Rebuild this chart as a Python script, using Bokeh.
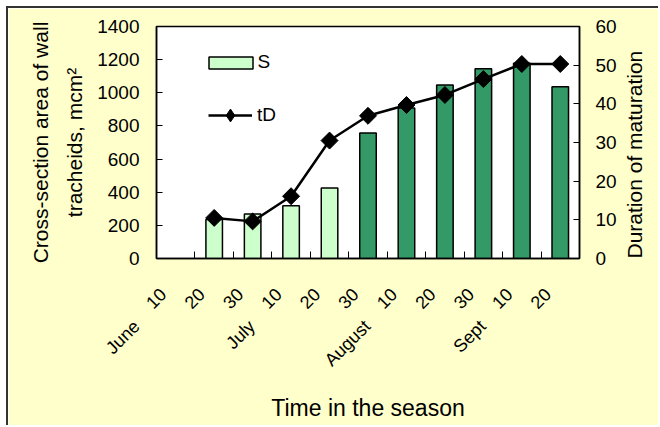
import math
import numpy as np
from bokeh.plotting import figure
from bokeh.models import (Range1d, LinearAxis, FixedTicker, Legend, LegendItem,
                          ColumnDataSource)
from bokeh.embed import file_html
from bokeh.resources import INLINE

# ---- data ----
months = ["June", "July", "August", "Sept"]
month_start = [0, 3, 6, 9]
days = ["10", "20", "30", "10", "20", "30", "10", "20", "30", "10", "20"]
S_values = [np.nan, 235, 268, 318, 425, 758, 908, 1047, 1145, 1178, 1037]
tD_values = [np.nan, 10.5, 9.6, 16.1, 30.5, 36.9, 39.7, 42.3, 46.4, 50.3, 50.3]
S_phase = ["", "early", "early", "early", "early", "late", "late", "late", "late", "late", "late"]
y_ticks = [0, 200, 400, 600, 800, 1000, 1200, 1400]
y2_ticks = [0, 10, 20, 30, 40, 50, 60]

FONT = "Liberation Sans"
phase_color = {"early": "#CCFFCC", "late": "#339966", "": "#FFFFFF"}

W, H = 652, 419
BL, BR, BT, BB = 148, 81, 18, 169

idx = list(range(len(days)))
keep = [i for i in idx if not np.isnan(S_values[i])]
src = ColumnDataSource(dict(
    x=[i for i in keep],
    S=[S_values[i] for i in keep],
    tD=[tD_values[i] for i in keep],
    color=[phase_color[S_phase[i]] for i in keep],
))

n = len(days)
p = figure(width=W, height=H,
           x_range=Range1d(-0.5, n - 0.5), y_range=Range1d(0, 1400),
           x_axis_type=None, y_axis_type=None,
           output_backend="svg", toolbar_location=None,
           min_border_left=BL, min_border_right=BR,
           min_border_top=BT, min_border_bottom=BB,
           background_fill_color="white", border_fill_color="#FFFFCC",
           outline_line_color="black", outline_line_width=1.5)
p.grid.visible = False
p.styles = {"margin-left": "6px", "margin-top": "6px",
            "border-left": "2px solid #333333", "border-top": "2px solid #333333"}

# label positions: day labels sit a little left of the bar centre (rotated text),
# month labels sit at the start of their group and are pushed further down-left
lab_shift = 0.32
p.extra_x_ranges = {"lab": Range1d(-0.5 + lab_shift, n - 0.5 + lab_shift)}
p.extra_y_ranges = {"tD": Range1d(0, 60)}

NBSP = "\u00a0"
day_ticks = [float(i) for i in idx]
month_ticks = [s - 0.19 + lab_shift for s in month_start]
overrides = {t: d for t, d in zip(day_ticks, days)}
overrides.update({t: m + NBSP * 9 for t, m in zip(month_ticks, months)})

xaxis = LinearAxis(x_range_name="lab",
                   ticker=FixedTicker(ticks=day_ticks + month_ticks,
                                      minor_ticks=[i - 0.5 + lab_shift for i in range(n + 1)]),
                   major_label_overrides=overrides,
                   major_label_orientation=math.pi / 4,
                   major_tick_in=0, major_tick_out=0,
                   minor_tick_in=7, minor_tick_out=0,
                   minor_tick_line_color="black", minor_tick_line_width=1,
                   major_label_standoff=33,
                   major_label_text_font=FONT, major_label_text_font_size="18px",
                   major_label_text_color="black",
                   axis_line_color="black", axis_line_width=1.5,
                   axis_label="Time in the season",
                   axis_label_text_font=FONT, axis_label_text_font_size="23px",
                   axis_label_text_font_style="normal", axis_label_text_color="black",
                   axis_label_standoff=15)
p.add_layout(xaxis, "below")

# left axis
yaxis = LinearAxis(ticker=FixedTicker(ticks=y_ticks),
                   major_tick_in=6, major_tick_out=0,
                   minor_tick_line_color=None,
                   major_tick_line_color="black", major_tick_line_width=1,
                   major_label_standoff=17,
                   major_label_text_font=FONT, major_label_text_font_size="19px",
                   major_label_text_color="black",
                   axis_line_color="black", axis_line_width=1.5,
                   axis_label="Cross-section area of wall\ntracheids, mcm\u00b2",
                   axis_label_text_font=FONT, axis_label_text_font_size="21px",
                   axis_label_text_font_style="normal", axis_label_text_color="black",
                   axis_label_text_line_height=1.5,
                   axis_label_standoff=8)
p.add_layout(yaxis, "left")

# right axis
y2axis = LinearAxis(y_range_name="tD", ticker=FixedTicker(ticks=y2_ticks),
                    major_tick_in=6, major_tick_out=0,
                    minor_tick_line_color=None,
                    major_tick_line_color="black", major_tick_line_width=1,
                    major_label_standoff=16,
                    major_label_text_font=FONT, major_label_text_font_size="19px",
                    major_label_text_color="black",
                    axis_line_color="black", axis_line_width=1.5,
                    axis_label="Duration of maturation",
                    axis_label_text_font=FONT, axis_label_text_font_size="21px",
                    axis_label_text_font_style="normal", axis_label_text_color="black",
                    axis_label_standoff=15)
_props = LinearAxis.properties()
if "axis_label_orientation" in _props:
    y2axis.axis_label_orientation = math.pi / 2
if "axis_label_align" in _props:
    try:
        y2axis.axis_label_align = "start"
    except Exception:
        pass
p.add_layout(y2axis, "right")

bars = p.vbar(x="x", top="S", bottom=0, width=0.43, source=src,
              fill_color="color", line_color="black", line_width=1.5)
line = p.line(x="x", y="tD", source=src, y_range_name="tD",
              line_color="black", line_width=2.5)
pts = p.scatter(x="x", y="tD", source=src, y_range_name="tD", marker="square",
                angle=math.pi / 4, size=12, fill_color="black", line_color="black")
# legend symbol for tD (diamond); its single point is empty (NaN) so nothing is plotted
leg_marker = p.scatter(x=[np.nan], y=[np.nan], y_range_name="tD", marker="diamond",
                       fill_color="black", line_color="black")

leg1 = Legend(items=[LegendItem(label="S", renderers=[bars])],
              location=(46.5, 185), glyph_width=55, glyph_height=15,
              label_standoff=0, padding=0, margin=0, spacing=0,
              border_line_color=None, background_fill_alpha=0,
              label_text_font=FONT, label_text_font_size="19px", label_text_color="black")
leg2 = Legend(items=[LegendItem(label="tD", renderers=[line, leg_marker])],
              location=(52, 127), glyph_width=44, glyph_height=32,
              label_standoff=5, padding=0, margin=0, spacing=0,
              border_line_color=None, background_fill_alpha=0,
              label_text_font=FONT, label_text_font_size="19px", label_text_color="black")
p.add_layout(leg1)
p.add_layout(leg2)

open("out.html", "w").write(file_html(p, INLINE))
